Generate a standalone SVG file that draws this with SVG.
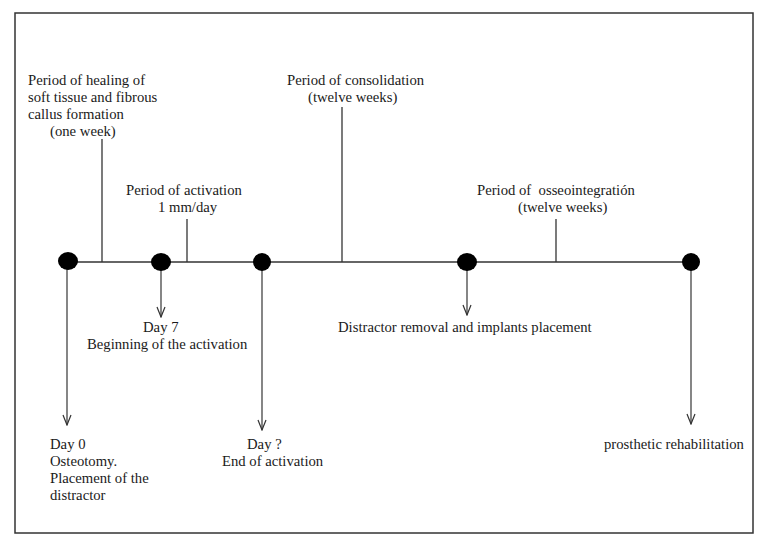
<svg xmlns="http://www.w3.org/2000/svg" width="769" height="546" viewBox="0 0 769 546">
<defs>
<marker id="arr" viewBox="0 0 12 10" refX="11" refY="5" markerWidth="12" markerHeight="10" markerUnits="userSpaceOnUse" orient="auto">
<path d="M1,1 L11,5 L1,9" fill="none" stroke="#333" stroke-width="1.2"/>
</marker>
<style>
text{font-family:"Liberation Serif","Times New Roman",serif;font-size:14.7px;fill:#1a1a1a}
.ln{stroke:#333;stroke-width:1.3;fill:none}
.ar{stroke:#444;stroke-width:1.3;fill:none;marker-end:url(#arr)}
.dot{fill:#000}
</style>
</defs>
<rect x="0" y="0" width="769" height="546" fill="#fff"/>
<rect x="15" y="13" width="738" height="520" fill="none" stroke="#333" stroke-width="1.5"/>
<g id="connectors">
<line class="ln" x1="67" y1="262" x2="690" y2="262"/>
<line class="ln" x1="102" y1="139" x2="102" y2="262"/>
<line class="ln" x1="187" y1="219" x2="187" y2="262"/>
<line class="ln" x1="342" y1="107" x2="342" y2="262"/>
<line class="ln" x1="556" y1="219" x2="556" y2="262"/>
<line class="ar" x1="67" y1="262" x2="67" y2="425"/>
<line class="ar" x1="161" y1="262" x2="161" y2="317"/>
<line class="ar" x1="262" y1="262" x2="262" y2="430"/>
<line class="ar" x1="467" y1="262" x2="467" y2="315"/>
<line class="ar" x1="691" y1="262" x2="691" y2="424"/>
</g>
<g id="dot-day0"><ellipse class="dot" cx="68" cy="261" rx="10" ry="9"/></g>
<g id="dot-day7"><ellipse class="dot" cx="161" cy="262" rx="10" ry="9"/></g>
<g id="dot-end"><ellipse class="dot" cx="262" cy="262" rx="9" ry="9"/></g>
<g id="dot-removal"><ellipse class="dot" cx="467" cy="262" rx="10" ry="9"/></g>
<g id="dot-prosthetic"><ellipse class="dot" cx="691" cy="262" rx="9" ry="9"/></g>
<g id="label-healing">
<text x="28" y="85">Period of healing of</text>
<text x="28" y="102">soft tissue and fibrous</text>
<text x="28" y="119">callus formation</text>
<text x="50" y="136">(one week)</text>
</g>
<g id="label-activation">
<text x="126" y="195">Period of activation</text>
<text x="158" y="212">1 mm/day</text>
</g>
<g id="label-consolidation">
<text x="287" y="85">Period of consolidation</text>
<text x="308" y="102">(twelve weeks)</text>
</g>
<g id="label-osseo">
<text x="477" y="195" xml:space="preserve">Period of  osseointegratión</text>
<text x="518" y="212">(twelve weeks)</text>
</g>
<g id="label-day7">
<text x="143" y="332">Day 7</text>
<text x="87" y="349">Beginning of the activation</text>
</g>
<g id="label-removal">
<text x="338" y="332">Distractor removal and implants placement</text>
</g>
<g id="label-day0">
<text x="50" y="449">Day 0</text>
<text x="50" y="466">Osteotomy.</text>
<text x="50" y="483">Placement of the</text>
<text x="50" y="500">distractor</text>
</g>
<g id="label-end">
<text x="247" y="449">Day ?</text>
<text x="222" y="466">End of activation</text>
</g>
<g id="label-prosthetic">
<text x="604" y="449">prosthetic rehabilitation</text>
</g>
</svg>
